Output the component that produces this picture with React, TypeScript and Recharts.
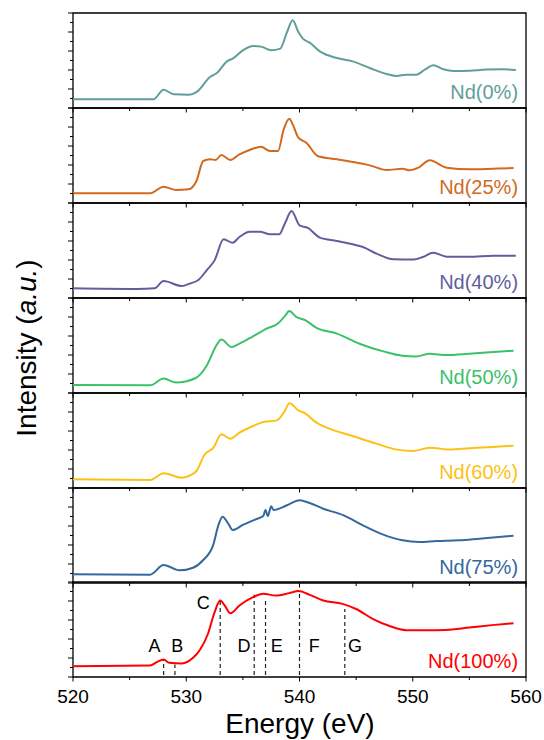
import React from 'react';
import { LineChart, Line, XAxis, YAxis, ReferenceArea, ReferenceLine, ReferenceDot } from 'recharts';

// energy (eV), intensity (0-100 within each panel)
const nd0 = [
  [520, 9.1], [527.1, 9.1], [528.0, 19.3], [528.9, 14.4], [530.2, 14], [530.9, 16.8], [532.1, 32.6],
  [532.7, 36.8], [533.6, 49.1], [534.1, 52], [535.0, 60.7], [535.9, 65.3], [536.6, 64.6], [537.5, 60.7],
  [538.3, 62.5], [538.9, 80], [539.4, 92.3], [539.9, 80], [540.3, 73], [540.9, 68.8], [541.8, 59.6],
  [543.3, 52.6], [544.7, 49.1], [546.2, 42.1], [547.7, 35.8], [548.6, 33.7], [549.4, 35.1], [550.3, 35.1],
  [551.1, 40.7], [551.8, 44.9], [552.7, 40.7], [553.6, 38.9], [555.0, 39.3], [556.5, 40.4], [558.0, 40.7],
  [559.1, 40],
];
const nd25 = [
  [520, 10.2], [526.8, 10.2], [528.0, 17.2], [529.1, 13.7], [530.2, 14.4], [530.9, 23.2], [531.5, 44.2],
  [532.1, 46], [532.6, 45.3], [533.1, 50.5], [533.9, 45.3], [534.7, 51.2], [535.6, 55.8], [536.6, 59.3],
  [537.4, 54.7], [538.1, 54.7], [538.6, 77.5], [539.1, 88.8], [539.4, 82.8], [539.9, 68.8], [540.6, 63.5],
  [541.6, 49.5], [543.3, 46], [544.7, 43.2], [546.2, 39.6], [547.7, 34.7], [549.1, 36.1], [549.7, 34.4],
  [550.5, 37.2], [551.5, 44.9], [553.0, 37.2], [555.0, 35.4], [557.1, 36.1], [558.9, 36.8],
];
const nd40 = [
  [520, 10.2], [525.6, 9.5], [527.2, 10.2], [528.0, 17.9], [529.6, 12.6], [530.3, 15.1], [531.1, 19.3],
  [531.8, 29.1], [532.5, 39.6], [533.3, 61.8], [534.1, 58.2], [534.7, 64.2], [535.6, 69.8], [536.5, 69.8],
  [537.4, 67], [538.2, 67], [538.7, 78.2], [539.3, 91.6], [540.0, 76.5], [540.7, 74], [541.8, 63.5],
  [543.3, 60], [544.7, 56.5], [545.6, 53.7], [546.8, 46.7], [548.3, 40.7], [550.0, 40.4], [550.9, 43.2],
  [551.8, 47.7], [553.0, 43.5], [555.0, 43.5], [557.1, 44.6], [559.1, 44.6],
];
const nd50 = [
  [520, 8.5], [526.8, 8.1], [528.0, 15.2], [529.1, 11], [530.8, 15.5], [531.8, 28.6], [532.7, 50.9],
  [533.1, 56.2], [534.0, 48.4], [534.7, 51.9], [535.9, 59.7], [537.1, 67.8], [538.1, 73.1], [538.7, 80.9],
  [539.1, 86.2], [539.7, 80.2], [540.5, 76.7], [541.5, 68.6], [543.3, 62.5], [545.3, 51.9], [547.4, 43.8],
  [549.1, 39.2], [550.3, 38.5], [551.5, 41.3], [553.0, 39.9], [555.0, 41.3], [557.1, 43.1], [558.9, 44.5],
];
const nd60 = [
  [520, 9.1], [526.8, 8.4], [528.0, 15.4], [529.6, 10.9], [530.5, 14.4], [530.9, 17.9], [531.6, 34.7],
  [532.4, 42.5], [533.1, 56.5], [533.9, 51.9], [534.7, 58.2], [535.9, 65.3], [536.8, 69.5], [538.0, 71.2],
  [538.7, 81.1], [539.1, 89.1], [539.9, 81.8], [540.5, 78.6], [541.5, 68.8], [542.4, 63.5], [544.7, 54.7],
  [546.8, 46.7], [548.6, 40.4], [550.0, 38.9], [551.5, 42.5], [553.3, 40.4], [555.0, 41.8], [557.1, 43.2],
  [558.9, 44.6],
];
const nd75 = [
  [520, 9.1], [526.8, 8.8], [528.0, 18.9], [529.4, 13.3], [530.6, 16.1], [531.5, 24.2], [532.4, 40.7],
  [532.8, 59.3], [533.2, 69.8], [533.7, 62.8], [534.1, 55.8], [535.0, 61.1], [536.2, 67.4], [536.8, 70.5],
  [537.0, 76.8], [537.2, 70.5], [537.5, 80.7], [537.7, 76.8], [538.9, 81.8], [540.0, 87], [540.9, 84.2],
  [542.1, 78.2], [543.9, 71.2], [545.6, 60.7], [547.4, 50.9], [549.1, 44.9], [550.6, 43.2], [552.1, 44.2],
  [554.1, 44.9], [555.9, 46.7], [557.6, 48.4], [558.9, 49.8],
];
const nd100 = [
  [520, 11.3], [526.8, 12], [527.4, 15.6], [528.0, 18.4], [528.5, 14.9], [529.6, 14.2], [530.6, 20.2],
  [531.2, 28.4], [531.9, 45], [532.5, 68.1], [533.0, 80.5], [533.4, 75.2], [533.9, 67], [534.7, 75.2],
  [535.9, 84], [536.8, 87.6], [537.9, 85.8], [539.1, 88.3], [539.9, 90.4], [540.9, 86.5], [542.1, 80.5],
  [543.8, 77], [545.0, 71.6], [546.5, 61], [547.9, 53.9], [549.4, 49.3], [551.2, 49.3], [552.9, 49.6],
  [555.0, 52.1], [557.0, 54.6], [558.9, 56.7],
];

const seriesNames = ['Nd(0%)', 'Nd(25%)', 'Nd(40%)', 'Nd(50%)', 'Nd(60%)', 'Nd(75%)', 'Nd(100%)'];
const seriesColors = ['#5f9e9b', '#d2691e', '#5f5f9e', '#3cc16b', '#fdc116', '#34699d', '#ff0000'];
const seriesData = [nd0, nd25, nd40, nd50, nd60, nd75, nd100];

// feature markers in the Nd(100%) panel: [energy, top of dashed line]
const markerNames = ['A', 'B', 'C', 'D', 'E', 'F', 'G'];
const markerEnergy = [528, 529, 533, 536, 537, 540, 544];
const markerTop = [18.4, 13.1, 80.5, 86.5, 81.6, 90.4, 71.6];
const markerLabelX = [527.2, 529.2, 531.5, 535.1, 538.0, 541.3, 544.9];
const markerLabelY = [26, 26, 71.3, 26, 26, 26, 26];

const xTicks = [520, 525, 530, 535, 540, 545, 550, 555, 560];
const yTicks = [0, 10, 20, 30, 40, 50, 60, 70, 80, 90, 100];

const FONT = '"Liberation Sans", Arial, sans-serif';
const PANEL_TOP = 13;
const PANEL_H = 94.9;
const AXIS_X = 73;

const makeXTick = (showLabel: boolean) => (props: any) => {
  const { x, y, payload } = props;
  const major = payload.value % 10 === 0;
  return (
    <g>
      <line x1={x} x2={x} y1={y} y2={y + (major ? 4.5 : 3)} stroke="#000" strokeWidth={1} />
      {showLabel && major && (
        <text x={x} y={y + 26} textAnchor="middle" fontSize={19} fill="#000" fontFamily={FONT}>
          {payload.value}
        </text>
      )}
    </g>
  );
};

const yTick = (props: any) => {
  const { y, payload } = props;
  const len = payload.value % 20 === 0 ? 5 : 3;
  return <line x1={AXIS_X - len} x2={AXIS_X} y1={y} y2={y} stroke="#000" strokeWidth={1} />;
};

const Panel = ({ index }: { index: number }) => {
  const isLast = index === seriesNames.length - 1;
  const xh = isLast ? 34 : 6;
  const color = seriesColors[index];
  const data = seriesData[index].map(([e, v]) => ({ e, v }));
  const top = PANEL_TOP + index * PANEL_H - 1;
  return (
    <div style={{ position: 'absolute', left: 0, top, width: 544, height: 96 + xh }}>
      <LineChart width={544} height={96 + xh} data={data} margin={{ top: 1, right: 18, bottom: 0, left: 0 }}>
        <XAxis
          type="number"
          dataKey="e"
          domain={[520, 560]}
          ticks={xTicks}
          interval={0}
          allowDataOverflow
          height={xh}
          tickSize={0}
          tickMargin={0}
          axisLine={false}
          tick={makeXTick(isLast)}
        />
        <YAxis
          type="number"
          domain={[0, 100]}
          ticks={yTicks}
          interval={0}
          width={AXIS_X}
          tickSize={0}
          tickMargin={0}
          axisLine={false}
          tick={yTick}
        />
        <ReferenceArea x1={520} x2={560} y1={0} y2={100} fill="none" fillOpacity={0} stroke="#000" strokeWidth={1.3} />
        {isLast &&
          markerEnergy.map((m, i) => (
            <ReferenceLine
              key={'l' + i}
              segment={[{ x: m, y: 2 }, { x: m, y: markerTop[i] }]}
              stroke="#222"
              strokeWidth={1.2}
              strokeDasharray="4 3"
            />
          ))}
        {isLast &&
          markerNames.map((n, i) => (
            <ReferenceDot
              key={'t' + i}
              x={markerLabelX[i]}
              y={markerLabelY[i]}
              r={0}
              shape={(p: any) => (
                <text x={p.cx} y={p.cy} textAnchor="middle" fontSize={18} fill="#000" fontFamily={FONT}>
                  {n}
                </text>
              )}
            />
          ))}
        <ReferenceDot
          x={559.3}
          y={9.5}
          r={0}
          shape={(p: any) => (
            <text x={p.cx} y={p.cy} textAnchor="end" fontSize={20} fill={color} fontFamily={FONT}>
              {seriesNames[index]}
            </text>
          )}
        />
        <Line type="monotone" dataKey="v" stroke={color} strokeWidth={2} dot={false} isAnimationActive={false} />
      </LineChart>
    </div>
  );
};

export default function App() {
  return (
    <div style={{ position: 'absolute', left: 0, top: 0, width: 544, height: 740, background: '#fff', fontFamily: FONT }}>
      {seriesNames.map((_, i) => (
        <Panel key={i} index={i} />
      ))}
      <div
        style={{
          position: 'absolute',
          left: 27 - 150,
          top: 348 - 17,
          width: 300,
          height: 34,
          lineHeight: '34px',
          textAlign: 'center',
          fontSize: 28,
          color: '#000',
          transform: 'rotate(-90deg)',
        }}
      >
        Intensity (<i>a.u.</i>)
      </div>
      <div
        style={{
          position: 'absolute',
          left: 150,
          top: 707,
          width: 300,
          height: 34,
          lineHeight: '34px',
          textAlign: 'center',
          fontSize: 28,
          color: '#000',
        }}
      >
        Energy (eV)
      </div>
    </div>
  );
}
